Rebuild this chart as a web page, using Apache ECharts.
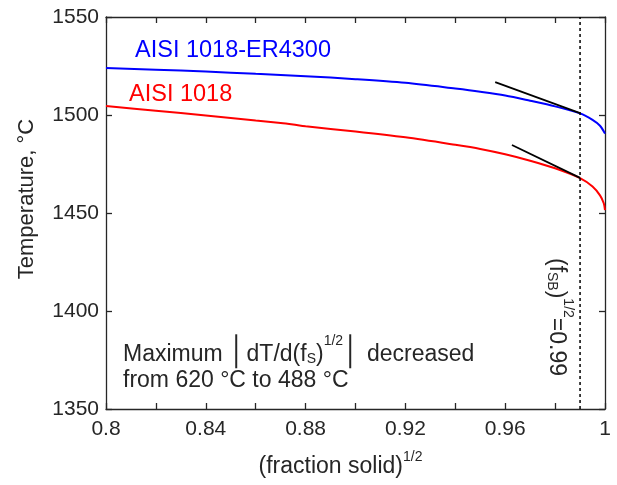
<!DOCTYPE html>
<html>
<head>
<meta charset="utf-8">
<script src="https://cdn.jsdelivr.net/npm/echarts@6/dist/echarts.min.js"></script>
<style>
  html, body { margin: 0; padding: 0; background: #fff; }
  #chart { width: 617px; height: 485px; }
</style>
</head>
<body>
<div id="chart"></div>
<script>
// (fraction solid)^1/2 positions and temperatures
const x_blue = [0.8, 0.82, 0.84, 0.86, 0.88, 0.9, 0.92, 0.94, 0.95, 0.96, 0.97, 0.98, 0.99, 0.995, 0.998, 1.0];
const t_blue = [1524.0, 1523.1, 1522.2, 1521.0, 1519.8, 1518.3, 1516.4, 1513.5, 1511.9, 1510.0, 1507.3, 1504.4, 1500.8, 1497.5, 1494.5, 1490.5];

const x_red = [0.8, 0.82, 0.84, 0.86, 0.87, 0.875, 0.88, 0.9, 0.92, 0.94, 0.95, 0.96, 0.97, 0.98, 0.99, 0.995, 0.998, 0.9995, 1.0];
const t_red = [1504.6, 1502.2, 1499.8, 1497.2, 1495.9, 1495.1, 1494.2, 1491.6, 1488.6, 1484.8, 1482.7, 1480.0, 1476.7, 1472.8, 1467.8, 1463.5, 1459.0, 1455.0, 1451.5];

// tangent lines at (f_SB)^1/2 = 0.99
const tan_blue = [[0.956, 1516.8], [0.99, 1501.0]];
const tan_red = [[0.9627, 1484.7], [0.99, 1467.9]];
const fsb = 0.99;

const x_ticks = [0.8, 1.0, 0.04];
const y_ticks = [1350, 1550, 50];

const txt = '#262626';
const font = 'Liberation Sans, Arial, sans-serif';

const zip = (xs, ys) => xs.map((x, i) => [x, ys[i]]);

const chart = echarts.init(document.getElementById('chart'));

function axis_x(pos, show_label) {
    return {
        type: 'value', position: pos,
        min: x_ticks[0], max: x_ticks[1], interval: x_ticks[2],
        axisLine: { show: true, onZero: false, lineStyle: { color: txt, width: 1.3 } },
        axisTick: { show: true, inside: true, length: 6, lineStyle: { color: txt, width: 1.3 } },
        minorTick: { show: true, splitNumber: 2, length: 6, lineStyle: { color: txt, width: 1.3 } },
        splitLine: { show: false },
        axisLabel: {
            show: show_label, color: txt, fontSize: 21, fontFamily: font, margin: 10,
            formatter: v => String(+v.toFixed(2))
        },
        name: show_label ? '{b|(fraction solid)}{s|1/2}' : '',
        nameLocation: 'middle', nameGap: 41,
        nameTextStyle: {
            padding: [0, 30, 0, 0],
            rich: {
                b: { fontSize: 23, color: txt, fontFamily: font, verticalAlign: 'bottom', lineHeight: 28 },
                s: { fontSize: 14, color: txt, fontFamily: font, verticalAlign: 'top', lineHeight: 28 }
            }
        }
    };
}

function axis_y(pos, show_label) {
    return {
        type: 'value', position: pos,
        min: y_ticks[0], max: y_ticks[1], interval: y_ticks[2],
        axisLine: { show: true, onZero: false, lineStyle: { color: txt, width: 1.3 } },
        axisTick: { show: true, inside: true, length: 6, lineStyle: { color: txt, width: 1.3 } },
        splitLine: { show: false },
        axisLabel: {
            show: show_label, color: txt, fontSize: 21, fontFamily: font, margin: 7,
            formatter: v => String(v)
        },
        name: show_label ? 'Temperature, °C' : '',
        nameLocation: 'middle', nameGap: 68,
        nameTextStyle: { fontSize: 22, color: txt, fontFamily: font, padding: [0, 0, 0, 28] }
    };
}

const option = {
    animation: false,
    grid: { left: 106, right: 12, top: 17, bottom: 76 },
    xAxis: [axis_x('bottom', true), axis_x('top', false)],
    yAxis: [axis_y('left', true), axis_y('right', false)],
    series: [
        {
            name: 'AISI 1018-ER4300', type: 'line', showSymbol: false, smooth: 0.3,
            lineStyle: { color: '#0000ff', width: 2 },
            data: zip(x_blue, t_blue)
        },
        {
            name: 'AISI 1018', type: 'line', showSymbol: false, smooth: 0.3,
            lineStyle: { color: '#ff0000', width: 2 },
            data: zip(x_red, t_red)
        },
        {
            type: 'line', showSymbol: false,
            lineStyle: { color: '#000', width: 1.8 },
            data: tan_blue
        },
        {
            type: 'line', showSymbol: false,
            lineStyle: { color: '#000', width: 1.8 },
            data: tan_red
        },
        {
            type: 'line', showSymbol: false,
            lineStyle: { color: '#000', width: 1.5, type: [3, 3] },
            data: [[fsb, y_ticks[0]], [fsb, y_ticks[1]]]
        }
    ],
    graphic: [
        {
            type: 'text', left: 135, top: 39,
            style: { text: 'AISI 1018-ER4300', fill: '#0000ff', fontSize: 23.5, fontFamily: font }
        },
        {
            type: 'text', left: 129, top: 83,
            style: { text: 'AISI 1018', fill: '#ff0000', fontSize: 23.5, fontFamily: font }
        },
        {
            type: 'text', left: 123, top: 334,
            style: {
                text: '{t|Maximum }{bar|│}{t|dT/d(f}{sub|S}{t|)}{sup|1/2}{bar|│}{t| decreased}',
                rich: {
                    t: { fontSize: 23, fill: txt, fontFamily: font, lineHeight: 32, verticalAlign: 'bottom' },
                    sub: { fontSize: 14, fill: txt, fontFamily: font, lineHeight: 32, verticalAlign: 'bottom' },
                    sup: { fontSize: 14, fill: txt, fontFamily: font, lineHeight: 32, verticalAlign: 'top' },
                    bar: { fontSize: 28, fill: txt, fontFamily: font, lineHeight: 32, verticalAlign: 'bottom' }
                }
            }
        },
        {
            type: 'text', left: 123, top: 369,
            style: { text: 'from 620 °C to 488 °C', fill: txt, fontSize: 23, fontFamily: font }
        },
        {
            type: 'text', x: 560, y: 317, rotation: -Math.PI / 2,
            style: {
                text: '{t|(f}{sub|SB}{t|)}{sup|1/2}{t|=0.99}',
                align: 'center', verticalAlign: 'middle',
                rich: {
                    t: { fontSize: 23, fill: txt, fontFamily: font, lineHeight: 30, verticalAlign: 'bottom' },
                    sub: { fontSize: 14, fill: txt, fontFamily: font, lineHeight: 30, verticalAlign: 'bottom' },
                    sup: { fontSize: 14, fill: txt, fontFamily: font, lineHeight: 30, verticalAlign: 'top' }
                }
            }
        }
    ]
};

chart.setOption(option);
</script>
</body>
</html>
